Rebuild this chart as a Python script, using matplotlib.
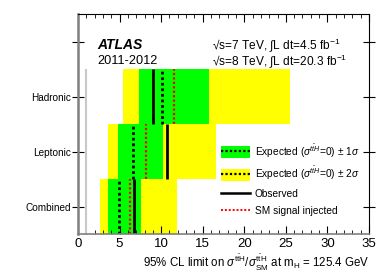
import numpy as np
import matplotlib
matplotlib.use("Agg")
import matplotlib.pyplot as plt
from matplotlib.patches import Patch
from matplotlib.lines import Line2D

plt.rcParams['font.family'] = ['Liberation Sans', 'DejaVu Sans']
plt.rcParams['mathtext.fontset'] = 'custom'
plt.rcParams['mathtext.rm'] = 'Liberation Sans'
plt.rcParams['mathtext.it'] = 'Liberation Sans:italic'
plt.rcParams['mathtext.bf'] = 'Liberation Sans:bold'

# channels, bottom to top
channels = ['Combined', 'Leptonic', 'Hadronic']
expected = [4.9, 6.6, 10.1]
observed = [6.7, 10.7, 9.0]
sm_injected = [6.25, 8.2, 11.5]
minus2 = [2.65, 3.57, 5.45]
minus1 = [3.57, 4.77, 7.34]
plus1 = [7.6, 10.2, 15.7]
plus2 = [11.95, 16.6, 25.5]

fig = plt.figure(figsize=(3.9, 2.8), dpi=100)
ax = fig.add_axes([0.2, 0.164, 0.746, 0.786])

pos = np.arange(len(channels)) + 0.5
ax.barh(pos, np.array(plus2) - np.array(minus2), left=minus2, height=1.0,
        color='#ffff00', linewidth=0)
ax.barh(pos, np.array(plus1) - np.array(minus1), left=minus1, height=1.0,
        color='#00ff00', linewidth=0)
ax.vlines(expected, pos - 0.5, pos + 0.5, colors='black', linestyles=(0, (1, 1)), lw=2)
ax.vlines(sm_injected, pos - 0.5, pos + 0.5, colors='red', linestyles=(0, (1, 1)), lw=1.6)
ax.vlines(observed, pos - 0.5, pos + 0.5, colors='black', lw=2)
# SM reference
ax.vlines([1.0], 0, len(channels), colors='#c8c8c8', lw=1.5)

ax.set_xlim(0, 35)
ax.set_ylim(0, 4)
ax.set_xticks(np.arange(0, 36, 5))
ax.set_xticks(np.arange(0, 36, 1), minor=True)
ax.set_yticks(list(pos) + [3.5])
ax.set_yticklabels(channels + [''], fontsize=7.2)
ax.tick_params(axis='x', which='major', direction='in', length=6, top=True, labelsize=9.5, pad=3)
ax.tick_params(axis='x', which='minor', direction='in', length=3, top=True)
ax.tick_params(axis='y', direction='inout', length=8, right=True, pad=1)
ax.spines['left'].set_color('#808080')
ax.spines['left'].set_linewidth(1.8)
ax.spines['bottom'].set_color('#808080')
ax.spines['bottom'].set_linewidth(1.2)

ax.set_xlabel(r'95% CL limit on $\sigma^{\mathrm{t\bar{t}H}}/\sigma^{\mathrm{t\bar{t}H}}_{\mathrm{SM}}$ at $\mathrm{m_H}$ = 125.4 GeV',
              fontsize=8.3, loc='right', labelpad=2)

ax.text(0.065, 0.86, 'ATLAS', transform=ax.transAxes, fontsize=10,
        fontweight='bold', fontstyle='italic', va='center')
ax.text(0.065, 0.785, '2011-2012', transform=ax.transAxes, fontsize=9.2, va='center')
ax.text(0.462, 0.86, r'√s=7 TeV, ∫L dt=4.5 fb$^{-1}$', transform=ax.transAxes,
        fontsize=8.6, va='center')
ax.text(0.462, 0.785, r'√s=8 TeV, ∫L dt=20.3 fb$^{-1}$', transform=ax.transAxes,
        fontsize=8.6, va='center')

handles = [
    (Patch(facecolor='#00ff00', linewidth=0), Line2D([], [], color='black', ls=(0, (1, 1)), lw=1.6)),
    (Patch(facecolor='#ffff00', linewidth=0), Line2D([], [], color='black', ls=(0, (1, 1)), lw=1.6)),
    Line2D([], [], color='black', lw=1.8),
    Line2D([], [], color='red', ls=(0, (1, 1)), lw=1.4),
]
labels = [r'Expected ($\sigma^{\it{t\bar{t}H}}$=0) $\pm$ 1$\sigma$',
          r'Expected ($\sigma^{\it{t\bar{t}H}}$=0) $\pm$ 2$\sigma$',
          'Observed', 'SM signal injected']
ax.legend(handles, labels, loc='upper left', bbox_to_anchor=(0.478, 0.435),
          frameon=False, fontsize=7.3, handlelength=2.8, handleheight=1.4,
          labelspacing=0.55, handletextpad=0.5, borderaxespad=0)

fig.savefig('out.png', dpi=100)
